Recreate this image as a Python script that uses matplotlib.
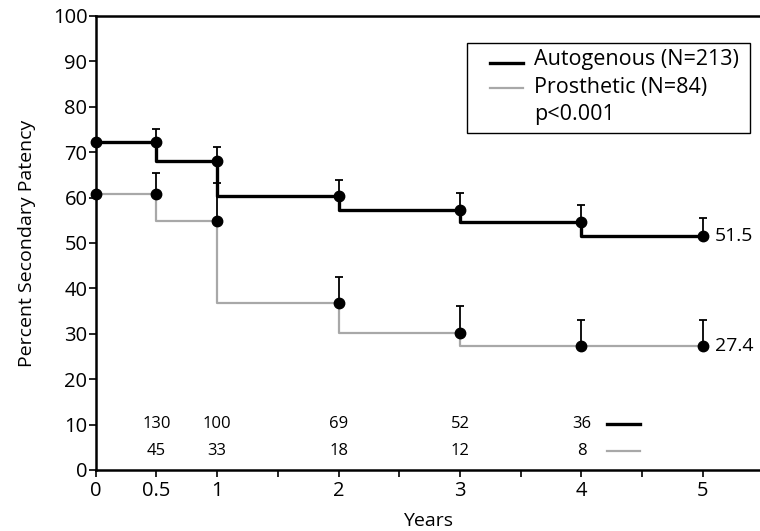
import numpy as np
import matplotlib.pyplot as plt
from matplotlib.patches import Rectangle

plt.rcParams['font.family'] = ['Open Sans', 'DejaVu Sans']

# Data
years = [0, 0.5, 1, 2, 3, 4, 5]
auto_marker = [72.3, 72.3, 68.0, 60.3, 57.3, 54.7, 51.5]
auto_step = [72.3, 68.0, 60.3, 57.3, 54.7, 51.5, 51.5]
auto_err_top = [72.3, 75.2, 71.2, 63.9, 61.1, 58.4, 55.4]
pros_marker = [60.8, 60.8, 54.9, 36.8, 30.1, 27.2, 27.4]
pros_step = [60.8, 54.9, 36.8, 30.1, 27.2, 27.2, 27.4]
pros_err_top = [60.8, 65.4, 63.3, 42.6, 36.0, 33.1, 33.1]

risk_years = [0.5, 1, 2, 3, 4]
auto_at_risk = [130, 100, 69, 52, 36]
pros_at_risk = [45, 33, 18, 12, 8]

legend_labels = ['Autogenous (N=213)', 'Prosthetic (N=84)', 'p<0.001']

grey = '#a8a8a8'

fig = plt.figure(figsize=(7.6, 5.31), dpi=100)
ax = fig.add_axes([0.126, 0.115, 0.874, 0.855])

# step curves
ax.step(years, pros_step, where='post', color=grey, lw=1.6, zorder=2)
ax.step(years, auto_step, where='post', color='black', lw=2.4, zorder=3)

# upper error bars
for x, y, top in zip(years[1:], pros_marker[1:], pros_err_top[1:]):
    ax.errorbar([x], [y], yerr=[[0], [top - y]], fmt='none', ecolor='black',
                elinewidth=1.3, capsize=3, capthick=1.3, zorder=4)
for x, y, top in zip(years[1:], auto_marker[1:], auto_err_top[1:]):
    ax.errorbar([x], [y], yerr=[[0], [top - y]], fmt='none', ecolor='black',
                elinewidth=1.3, capsize=3, capthick=1.3, zorder=4)

ax.plot(years, auto_marker, 'o', color='black', ms=7.5, zorder=5, clip_on=False)
ax.plot(years, pros_marker, 'o', color='black', ms=7.5, zorder=5, clip_on=False)

ax.text(5.1, auto_marker[-1], f'{auto_marker[-1]}', fontsize=14, va='center')
ax.text(5.1, pros_marker[-1], f'{pros_marker[-1]}', fontsize=14, va='center')

# numbers at risk
for x, a, p in zip(risk_years, auto_at_risk, pros_at_risk):
    ax.text(x, 10.2, str(a), fontsize=12, ha='center', va='center')
    ax.text(x, 4.2, str(p), fontsize=12, ha='center', va='center')
ax.plot([4.21, 4.48], [10.2, 10.2], color='black', lw=2.4)
ax.plot([4.21, 4.48], [4.2, 4.2], color=grey, lw=1.6)

# legend box drawn by hand (axes fraction)
ax.add_patch(Rectangle((0.559, 0.742), 0.426, 0.1985, transform=ax.transAxes,
                       facecolor='white', edgecolor='black', lw=1.0, zorder=6))
ax.plot([0.593, 0.643], [0.897, 0.897], transform=ax.transAxes,
        color='black', lw=2.4, zorder=7)
ax.plot([0.593, 0.643], [0.841, 0.841], transform=ax.transAxes,
        color=grey, lw=1.6, zorder=7)
for lab, yy in zip(legend_labels, [0.903, 0.843, 0.783]):
    ax.text(0.6596, yy, lab, transform=ax.transAxes, fontsize=15.5,
            va='center', ha='left', zorder=7)

ax.set_xlim(0, 5.47)
ax.set_ylim(0, 100)
ax.set_xticks([0, 0.5, 1, 2, 3, 4, 5])
ax.set_xticklabels(['0', '0.5', '1', '2', '3', '4', '5'])
ax.set_xticks([1.5, 2.5, 3.5, 4.5], minor=True)
ax.set_yticks(np.arange(0, 101, 10))
ax.tick_params(axis='both', which='both', direction='out', length=5, width=1.2,
               labelsize=14.5)
ax.tick_params(axis='x', pad=3)
ax.tick_params(axis='y', pad=1)

for s in ['left', 'bottom', 'top']:
    ax.spines[s].set_linewidth(1.8)
ax.spines['right'].set_visible(False)

ax.set_xlabel('Years', fontsize=14, labelpad=8)
ax.set_ylabel('Percent Secondary Patency', fontsize=14, labelpad=12)

fig.savefig('out.png', dpi=100)
